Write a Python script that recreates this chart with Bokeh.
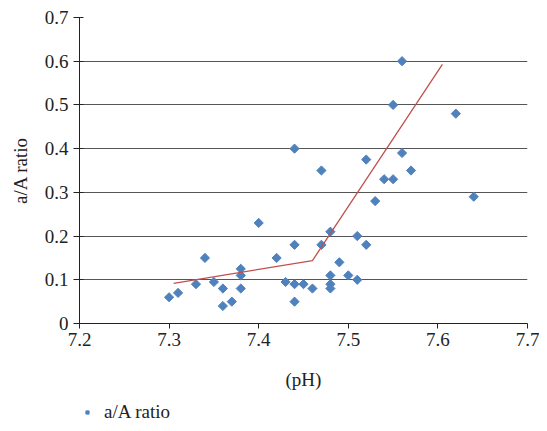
from bokeh.plotting import figure
from bokeh.layouts import column
from bokeh.models import FixedTicker, Legend, LegendItem, ColumnDataSource
from bokeh.embed import file_html
from bokeh.resources import INLINE
import math

# ---- data ----
ph = [7.30, 7.31, 7.33, 7.34, 7.35, 7.36, 7.36, 7.37, 7.38, 7.38, 7.38, 7.40,
      7.42, 7.43, 7.44, 7.44, 7.44, 7.44, 7.45, 7.46, 7.47, 7.47, 7.48, 7.48,
      7.48, 7.48, 7.49, 7.50, 7.51, 7.51, 7.52, 7.52, 7.53, 7.54, 7.55, 7.55,
      7.56, 7.56, 7.57, 7.62, 7.64]
ratio = [0.06, 0.07, 0.09, 0.15, 0.095, 0.08, 0.04, 0.05, 0.125, 0.11, 0.08, 0.23,
         0.15, 0.095, 0.09, 0.05, 0.18, 0.40, 0.09, 0.08, 0.18, 0.35, 0.21, 0.11,
         0.09, 0.08, 0.14, 0.11, 0.10, 0.20, 0.18, 0.375, 0.28, 0.33, 0.33, 0.50,
         0.39, 0.60, 0.35, 0.48, 0.29]
trend_x = [7.305, 7.46, 7.605]
trend_y = [0.092, 0.144, 0.593]
x_ticks = [7.2, 7.3, 7.4, 7.5, 7.6, 7.7]
y_ticks = [0, 0.1, 0.2, 0.3, 0.4, 0.5, 0.6, 0.7]
y_tick_labels = ["0", "0.1", "0.2", "0.3", "0.4", "0.5", "0.6", "0.7"]
series_name = "a/A ratio"
x_title = "(pH)"
y_title = "a/A ratio"

FONT = "Liberation Serif"
FS = "19px"
BLUE = "#4F81BD"
RED = "#C0504D"
INK = "#222222"

W = 539
p = figure(width=W, height=400, output_backend="svg", toolbar_location=None,
           x_range=(7.2, 7.7), y_range=(0, 0.7),
           min_border_left=79, min_border_right=12, min_border_top=17, min_border_bottom=77)
p.outline_line_color = None

# grid
p.xgrid.grid_line_color = None
p.ygrid.ticker = FixedTicker(ticks=y_ticks[1:])
p.ygrid.grid_line_color = "#555555"
p.ygrid.grid_line_width = 1

# axes
p.xaxis.ticker = FixedTicker(ticks=x_ticks)
p.yaxis.ticker = FixedTicker(ticks=y_ticks)
p.yaxis.major_label_overrides = {t: l for t, l in zip(y_ticks, y_tick_labels)}
for ax in (p.xaxis[0], p.yaxis[0]):
    ax.axis_line_color = INK
    ax.major_tick_line_color = INK
    ax.minor_tick_line_color = None
    ax.major_label_text_font = FONT
    ax.major_label_text_font_size = FS
    ax.major_label_text_color = INK
    ax.axis_label_text_font = FONT
    ax.axis_label_text_font_size = FS
    ax.axis_label_text_font_style = "normal"
    ax.axis_label_text_color = INK
p.xaxis.major_tick_out = 5
p.xaxis.major_tick_in = 0
p.yaxis.major_tick_out = 6
p.yaxis.major_tick_in = 4
p.xaxis.major_label_standoff = 4
p.yaxis.major_label_standoff = 5
p.xaxis.axis_label = x_title
p.yaxis.axis_label = y_title
p.xaxis.axis_label_standoff = 20
p.yaxis.axis_label_standoff = 11

src = ColumnDataSource(dict(x=ph, y=ratio))
p.scatter("x", "y", source=src, marker="square", size=6.5, angle=math.pi / 4,
          fill_color=BLUE, line_color=BLUE, line_width=1)
p.line(trend_x, trend_y, line_color=RED, line_width=1.3)

# legend strip below the chart (its frame is aligned with the chart's frame)
lf = figure(width=W, height=23, output_backend="svg", toolbar_location=None,
            x_range=(0, 1), y_range=(0, 1), x_axis_type=None, y_axis_type=None,
            min_border=0, min_border_left=0, min_border_right=0,
            min_border_top=0, min_border_bottom=0)
lf.outline_line_color = None
lf.grid.visible = False
# same series drawn in the strip's own (empty) window: only its legend key shows
key = lf.scatter("x", "y", source=src, marker="square", size=5, angle=math.pi / 4,
                 fill_color=BLUE, line_color=BLUE, line_width=1)
legend = Legend(items=[LegendItem(label=series_name, renderers=[key])],
                location=(2, 0), orientation="horizontal",
                border_line_color=None, background_fill_alpha=0,
                padding=0, margin=0, label_standoff=11,
                glyph_width=12, glyph_height=8, label_height=8,
                label_text_font=FONT, label_text_font_size=FS,
                label_text_line_height=0.6,
                label_text_color=INK)
lf.add_layout(legend)

layout = column(p, lf, spacing=0)
open("out.html", "w").write(file_html(layout, INLINE))
